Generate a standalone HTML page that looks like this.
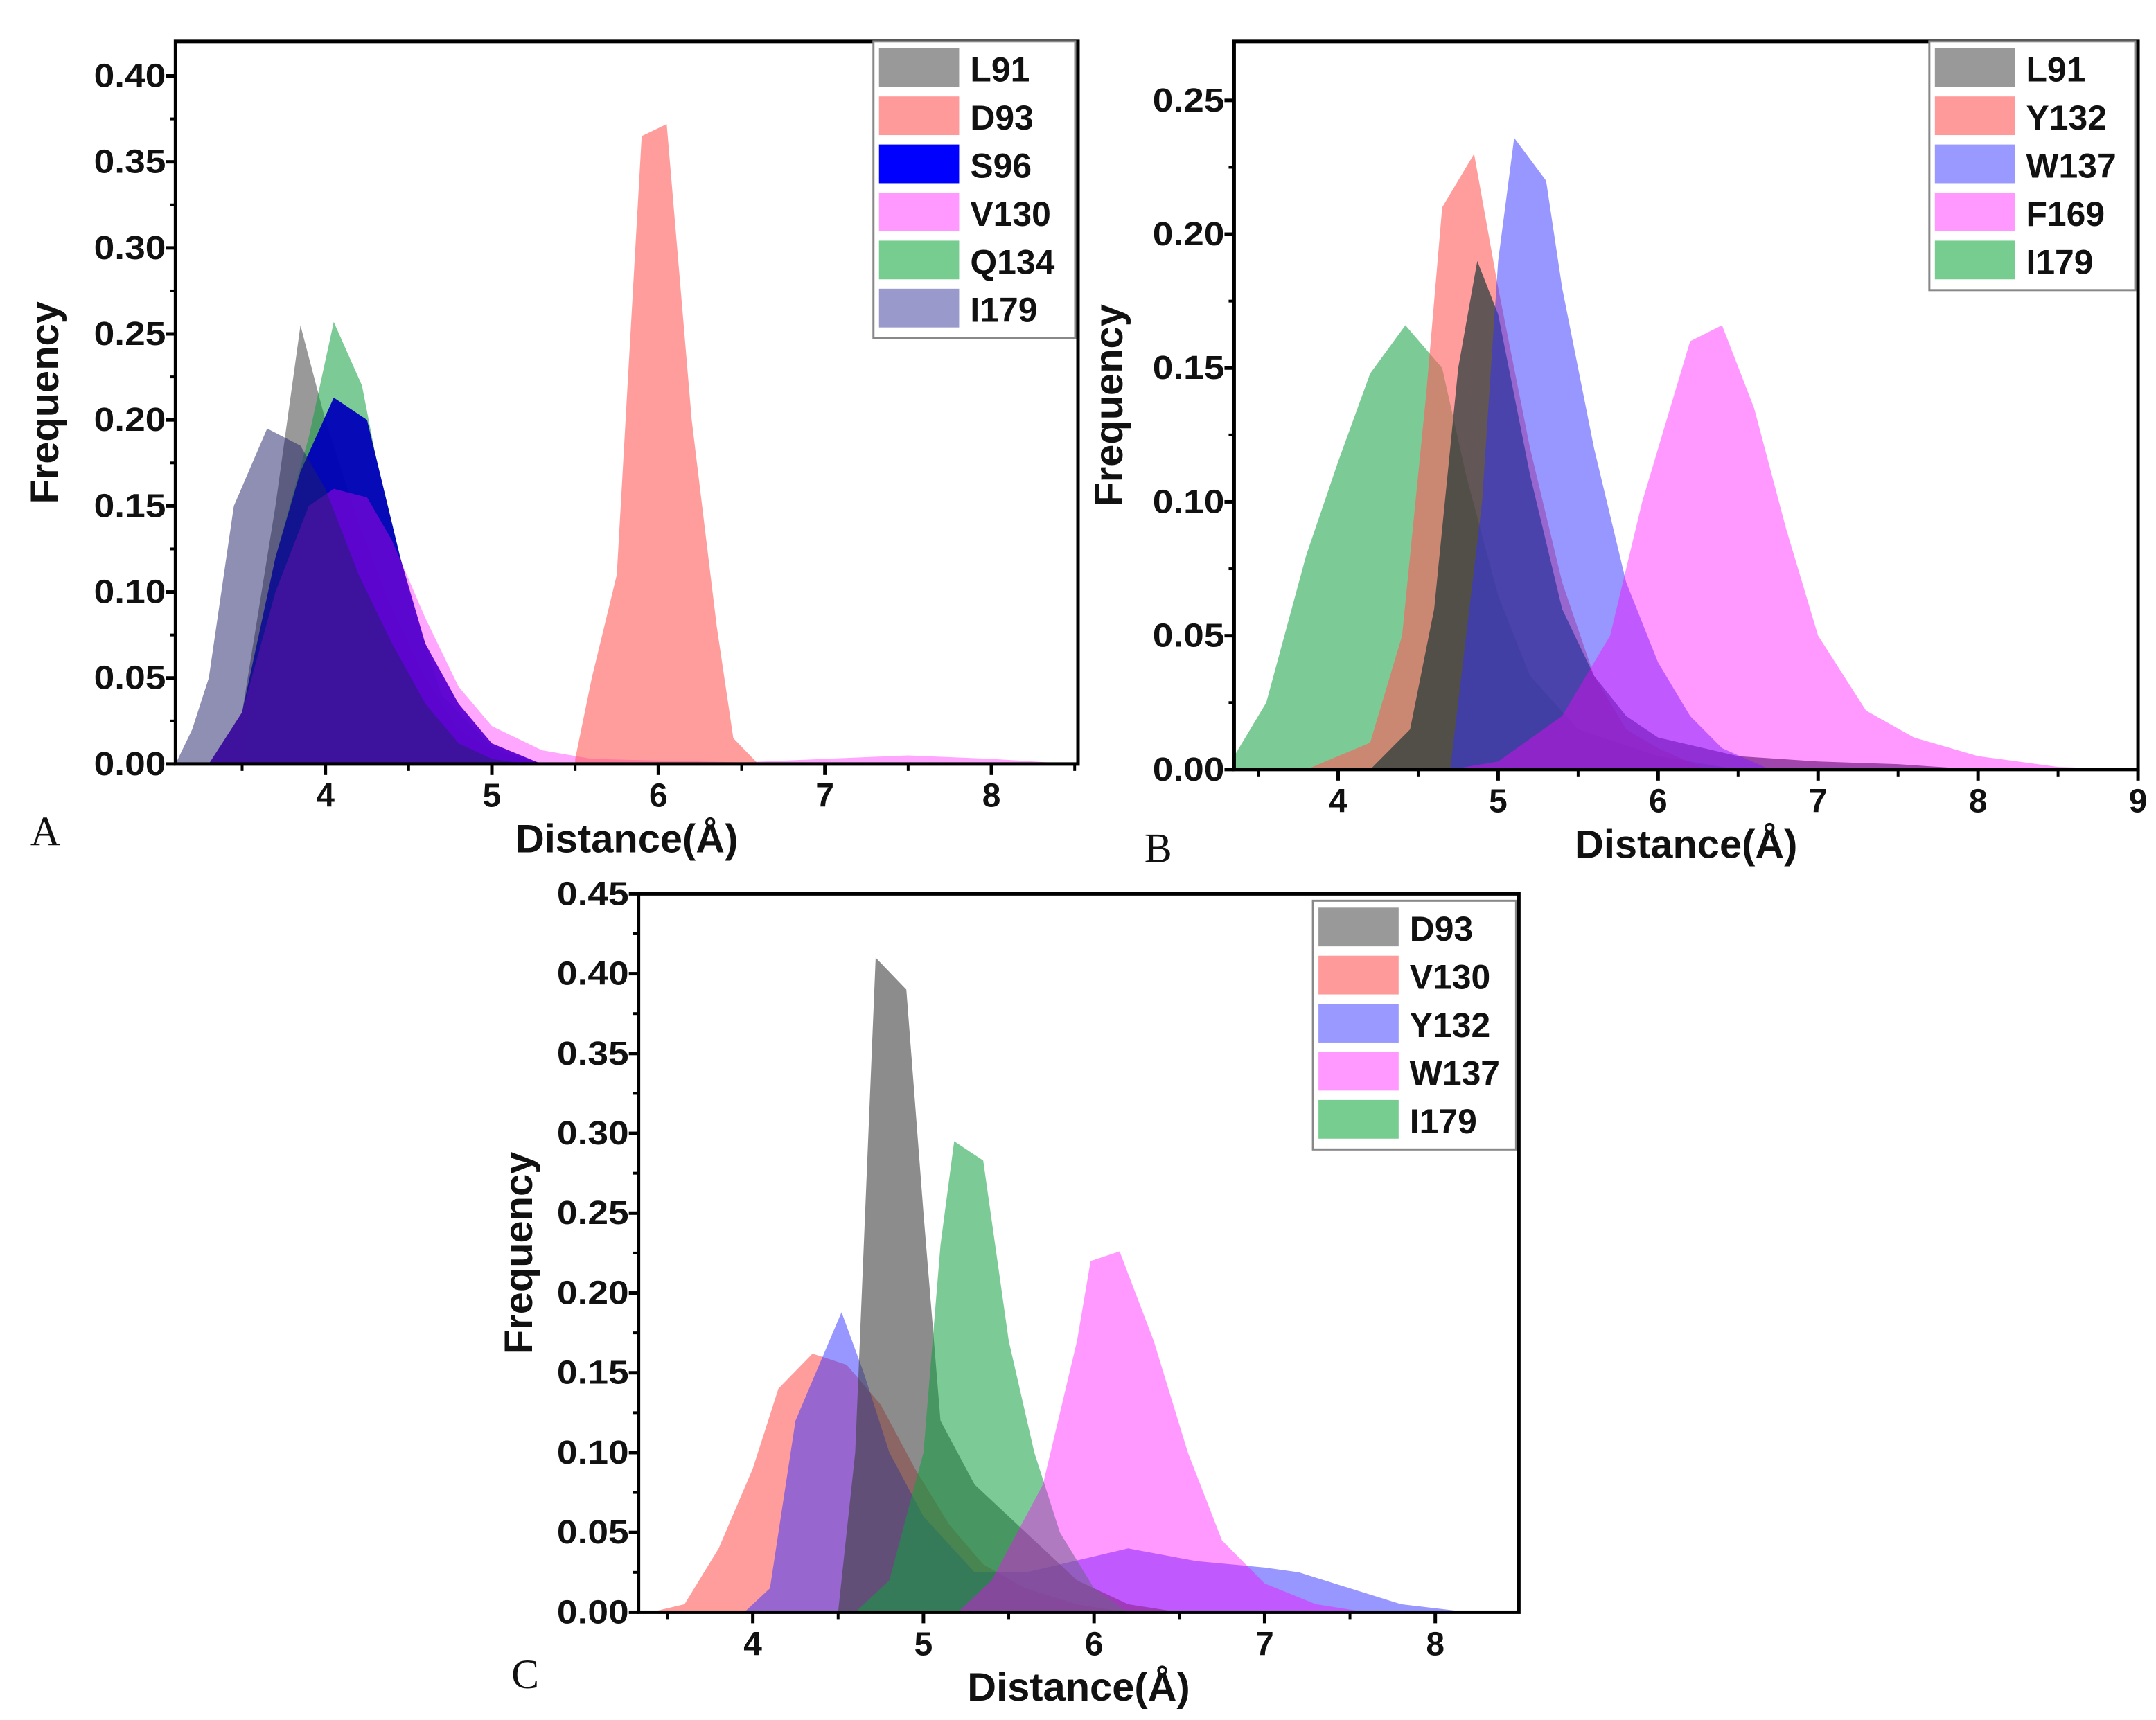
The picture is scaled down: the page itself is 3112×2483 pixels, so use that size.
<!DOCTYPE html>
<html><head><meta charset="utf-8"><style>
html,body{margin:0;padding:0;background:#fff}
svg{display:block}
text{font-family:"Liberation Sans",Arial,sans-serif;font-weight:bold;fill:#111}
.pl{font-family:"Liberation Serif",serif;font-weight:normal}
</style></head><body>
<svg id="fig" width="3112" height="2483" viewBox="0 0 1560 1245" preserveAspectRatio="none" xmlns="http://www.w3.org/2000/svg"></svg>
<script>
// ---------- Panel A data ----------
const aNames = ["L91","D93","S96","V130","Q134","I179"];
const aL91x=[3.3,3.5,3.7,3.85,4.0,4.2,4.4,4.6,4.8,5.0,5.3], aL91y=[0,0.03,0.15,0.255,0.2,0.14,0.09,0.05,0.02,0.008,0];
const aD93x=[5.5,5.6,5.75,5.9,6.05,6.2,6.35,6.45,6.6], aD93y=[0.003,0.05,0.11,0.365,0.372,0.2,0.08,0.015,0];
const aS96x=[3.3,3.5,3.7,3.85,4.05,4.25,4.45,4.6,4.8,5.0,5.3], aS96y=[0,0.03,0.12,0.17,0.213,0.2,0.12,0.07,0.035,0.012,0];
const aV130x=[3.3,3.5,3.7,3.9,4.05,4.25,4.4,4.6,4.8,5.0,5.3,5.6,6.5,7.0,7.5,8.0,8.5], aV130y=[0,0.03,0.1,0.15,0.16,0.155,0.13,0.085,0.045,0.022,0.008,0.003,0.001,0.003,0.005,0.003,0];
const aQ134x=[3.5,3.7,3.9,4.05,4.22,4.3,4.5,4.7,5.0,5.3], aQ134y=[0,0.12,0.19,0.257,0.22,0.18,0.1,0.04,0.01,0];
const aI179x=[3.1,3.2,3.3,3.45,3.65,3.85,4.0,4.2,4.4,4.6,4.8,5.0,5.2], aI179y=[0,0.02,0.05,0.15,0.195,0.185,0.16,0.11,0.07,0.035,0.012,0.003,0];
const aXTicks=[4,5,6,7,8], aYTicks=["0.00","0.05","0.10","0.15","0.20","0.25","0.30","0.35","0.40"];
// ---------- Panel B data ----------
const bNames=["L91","Y132","W137","F169","I179"];
const bL91x=[4.2,4.45,4.6,4.75,4.87,5.0,5.2,5.4,5.6,5.8,6.0,6.5,7.0,7.5,8.0], bL91y=[0,0.015,0.06,0.15,0.19,0.17,0.11,0.06,0.035,0.02,0.012,0.005,0.003,0.002,0];
const bY132x=[3.8,4.2,4.4,4.55,4.65,4.85,5.0,5.2,5.4,5.6,5.8,6.0,6.3], bY132y=[0,0.01,0.05,0.14,0.21,0.23,0.18,0.12,0.07,0.035,0.015,0.008,0];
const bW137x=[4.7,4.9,5.0,5.1,5.3,5.4,5.6,5.8,6.0,6.2,6.4,6.7], bW137y=[0,0.1,0.19,0.236,0.22,0.18,0.12,0.07,0.04,0.02,0.008,0];
const bF169x=[4.7,5.0,5.4,5.7,5.9,6.2,6.4,6.6,6.8,7.0,7.3,7.6,8.0,8.5,9.0], bF169y=[0,0.003,0.02,0.05,0.1,0.16,0.166,0.135,0.09,0.05,0.022,0.012,0.005,0.001,0];
const bI179x=[3.35,3.55,3.8,4.0,4.2,4.42,4.65,4.8,5.0,5.2,5.5,6.0,6.5], bI179y=[0.005,0.025,0.08,0.115,0.148,0.166,0.15,0.11,0.065,0.035,0.015,0.005,0];
const bXTicks=[4,5,6,7,8,9], bYTicks=["0.00","0.05","0.10","0.15","0.20","0.25"];
// ---------- Panel C data ----------
const cNames=["D93","V130","Y132","W137","I179"];
const cD93x=[4.5,4.6,4.72,4.9,5.0,5.1,5.3,5.5,5.7,5.9,6.2,6.5], cD93y=[0,0.1,0.41,0.39,0.25,0.12,0.08,0.06,0.04,0.02,0.005,0];
const cV130x=[3.4,3.6,3.8,4.0,4.15,4.35,4.55,4.75,4.95,5.15,5.35,5.6,5.9,6.2], cV130y=[0,0.005,0.04,0.09,0.14,0.162,0.155,0.13,0.09,0.055,0.03,0.015,0.005,0];
const cY132x=[3.95,4.1,4.25,4.52,4.65,4.8,5.0,5.3,5.6,6.0,6.2,6.6,7.0,7.2,7.5,7.8,8.2], cY132y=[0,0.015,0.12,0.188,0.15,0.1,0.06,0.025,0.025,0.035,0.04,0.032,0.028,0.025,0.015,0.005,0];
const cW137x=[5.2,5.4,5.7,5.9,5.98,6.15,6.35,6.55,6.75,7.0,7.3,7.6], cW137y=[0,0.02,0.08,0.17,0.22,0.226,0.17,0.1,0.045,0.018,0.005,0];
const cI179x=[4.6,4.8,5.0,5.1,5.18,5.35,5.5,5.65,5.8,6.0,6.2], cI179y=[0,0.02,0.1,0.23,0.295,0.283,0.17,0.1,0.05,0.015,0];
const cXTicks=[4,5,6,7,8], cYTicks=["0.00","0.05","0.10","0.15","0.20","0.25","0.30","0.35","0.40","0.45"];

const NS="http://www.w3.org/2000/svg", svg=document.getElementById('fig');
function mk(tag,attrs,parent){const e=document.createElementNS(NS,tag);for(const k in attrs)e.setAttribute(k,attrs[k]);(parent||svg).appendChild(e);return e;}

function panel(cfg){
  const g=mk('g',{});
  
  
  const sx=v=>cfg.L+(v-cfg.x0)/(cfg.x1-cfg.x0)*(cfg.R-cfg.L);
  const sy=v=>cfg.B-(v-cfg.y0)/(cfg.y1-cfg.y0)*(cfg.B-cfg.T);
  cfg.order.forEach(i=>{
    const s=cfg.series[i];
    let d='M'+sx(s.x[0])+','+sy(0);
    s.x.forEach((xv,j)=>{d+=' L'+sx(xv).toFixed(1)+','+sy(s.y[j]).toFixed(1);});
    d+=' L'+sx(s.x[s.x.length-1])+','+sy(0)+' Z';
    const p=mk('path',{d:d,fill:s.c,'fill-opacity':s.a},g);
    
    
  });
  const fr=mk('rect',{x:cfg.L,y:cfg.T,width:cfg.R-cfg.L,height:cfg.B-cfg.T,fill:'none',stroke:'#000','stroke-width':2.5},g);
  
  
  cfg.xt.forEach(t=>{
    mk('line',{x1:sx(t),x2:sx(t),y1:cfg.B,y2:cfg.B+8,stroke:'#000','stroke-width':2.5},g);
    const m=t-0.5; if(m>cfg.x0) mk('line',{x1:sx(m),x2:sx(m),y1:cfg.B,y2:cfg.B+5,stroke:'#000','stroke-width':2},g);
    const tx=mk('text',{x:sx(t),y:cfg.B+31,'text-anchor':'middle','font-size':24},g);
    tx.textContent=t;
    
    
  });
  const lm=cfg.xt[cfg.xt.length-1]+0.5; if(lm<cfg.x1) mk('line',{x1:sx(lm),x2:sx(lm),y1:cfg.B,y2:cfg.B+5,stroke:'#000','stroke-width':2},g);
  cfg.yt.forEach(t=>{
    const v=parseFloat(t);
    mk('line',{x1:cfg.L-7,x2:cfg.L,y1:sy(v),y2:sy(v),stroke:'#000','stroke-width':2.5},g);
    const m=v+0.025; if(m<cfg.y1) mk('line',{x1:cfg.L-4,x2:cfg.L,y1:sy(m),y2:sy(m),stroke:'#000','stroke-width':2},g);
    const tx=mk('text',{x:cfg.L-7,y:sy(v)+8,'text-anchor':'end','font-size':24,textLength:52,lengthAdjust:'spacingAndGlyphs'},g);
    tx.textContent=t;
    
    
  });
  const xt=mk('text',{x:(cfg.L+cfg.R)/2,y:cfg.B+64,'text-anchor':'middle','font-size':29},g);
  xt.textContent='Distance(Å)';
  
  
  const cy=(cfg.T+cfg.B)/2;
  const yt=mk('text',{x:cfg.yx,y:cy,'text-anchor':'middle','font-size':29,transform:'rotate(-90 '+cfg.yx+' '+cy+')'},g);
  yt.textContent='Frequency';
  
  
  const pl=mk('text',{x:cfg.px,y:cfg.py,'font-size':30,'class':'pl'},g);
  pl.textContent=cfg.label;
  
  
  const lg=mk('g',{},g);
  
  
  const n=cfg.series.length;
  mk('rect',{x:cfg.lx,y:cfg.ly,width:cfg.lw,height:n*34.8+6,fill:'#fff',stroke:'#888','stroke-width':1.5},lg);
  cfg.series.forEach((s,i)=>{
    const y=cfg.ly+5+i*34.8;
    const r=mk('rect',{x:cfg.lx+4,y:y,width:58,height:28,fill:s.lc},lg);
    
    
    const t=mk('text',{x:cfg.lx+70,y:y+24,'font-size':25},lg);
    t.textContent=s.n;
    
    
  });
}
const GR='#808080',RD='#ff5c5c',MG='#ff00ff',GN='#10a040';
panel({id:'panel-a',label:'A',L:127,R:780,T:30,B:553,x0:3.1,x1:8.52,y0:0,y1:0.42,xt:aXTicks,yt:aYTicks,yx:42,px:22,py:612,
  lx:632,ly:30,lw:146,order:[0,4,2,3,5,1],
  series:[{n:aNames[0],x:aL91x,y:aL91y,c:GR,a:0.8,lc:'#999'},
          {n:aNames[1],x:aD93x,y:aD93y,c:RD,a:0.6,lc:'#ff9a9a'},
          {n:aNames[2],x:aS96x,y:aS96y,c:'#0000b8',a:0.95,lc:'#0000ff'},
          {n:aNames[3],x:aV130x,y:aV130y,c:MG,a:0.35,lc:'#ff99ff'},
          {n:aNames[4],x:aQ134x,y:aQ134y,c:GN,a:0.55,lc:'#77cc90'},
          {n:aNames[5],x:aI179x,y:aI179y,c:'#20206a',a:0.5,lc:'#9999cc'}]});
panel({id:'panel-b',label:'B',L:893,R:1547,T:30,B:557,x0:3.35,x1:9,y0:0,y1:0.272,xt:bXTicks,yt:bYTicks,yx:812,px:828,py:624,
  lx:1396,ly:30,lw:149,order:[4,1,0,2,3],
  series:[{n:bNames[0],x:bL91x,y:bL91y,c:'#203838',a:0.7,lc:'#999'},
          {n:bNames[1],x:bY132x,y:bY132y,c:RD,a:0.6,lc:'#ff9a9a'},
          {n:bNames[2],x:bW137x,y:bW137y,c:'#3030ff',a:0.5,lc:'#9999ff'},
          {n:bNames[3],x:bF169x,y:bF169y,c:MG,a:0.4,lc:'#ff99ff'},
          {n:bNames[4],x:bI179x,y:bI179y,c:GN,a:0.55,lc:'#77cc90'}]});
panel({id:'panel-c',label:'C',L:462,R:1099,T:647,B:1167,x0:3.33,x1:8.49,y0:0,y1:0.45,xt:cXTicks,yt:cYTicks,yx:385,px:370,py:1222,
  lx:950,ly:652,lw:147,order:[1,2,0,4,3],
  series:[{n:cNames[0],x:cD93x,y:cD93y,c:'#404040',a:0.6,lc:'#999'},
          {n:cNames[1],x:cV130x,y:cV130y,c:RD,a:0.6,lc:'#ff9a9a'},
          {n:cNames[2],x:cY132x,y:cY132y,c:'#3030ff',a:0.5,lc:'#9999ff'},
          {n:cNames[3],x:cW137x,y:cW137y,c:MG,a:0.4,lc:'#ff99ff'},
          {n:cNames[4],x:cI179x,y:cI179y,c:GN,a:0.55,lc:'#77cc90'}]});
</script>
</body></html>
